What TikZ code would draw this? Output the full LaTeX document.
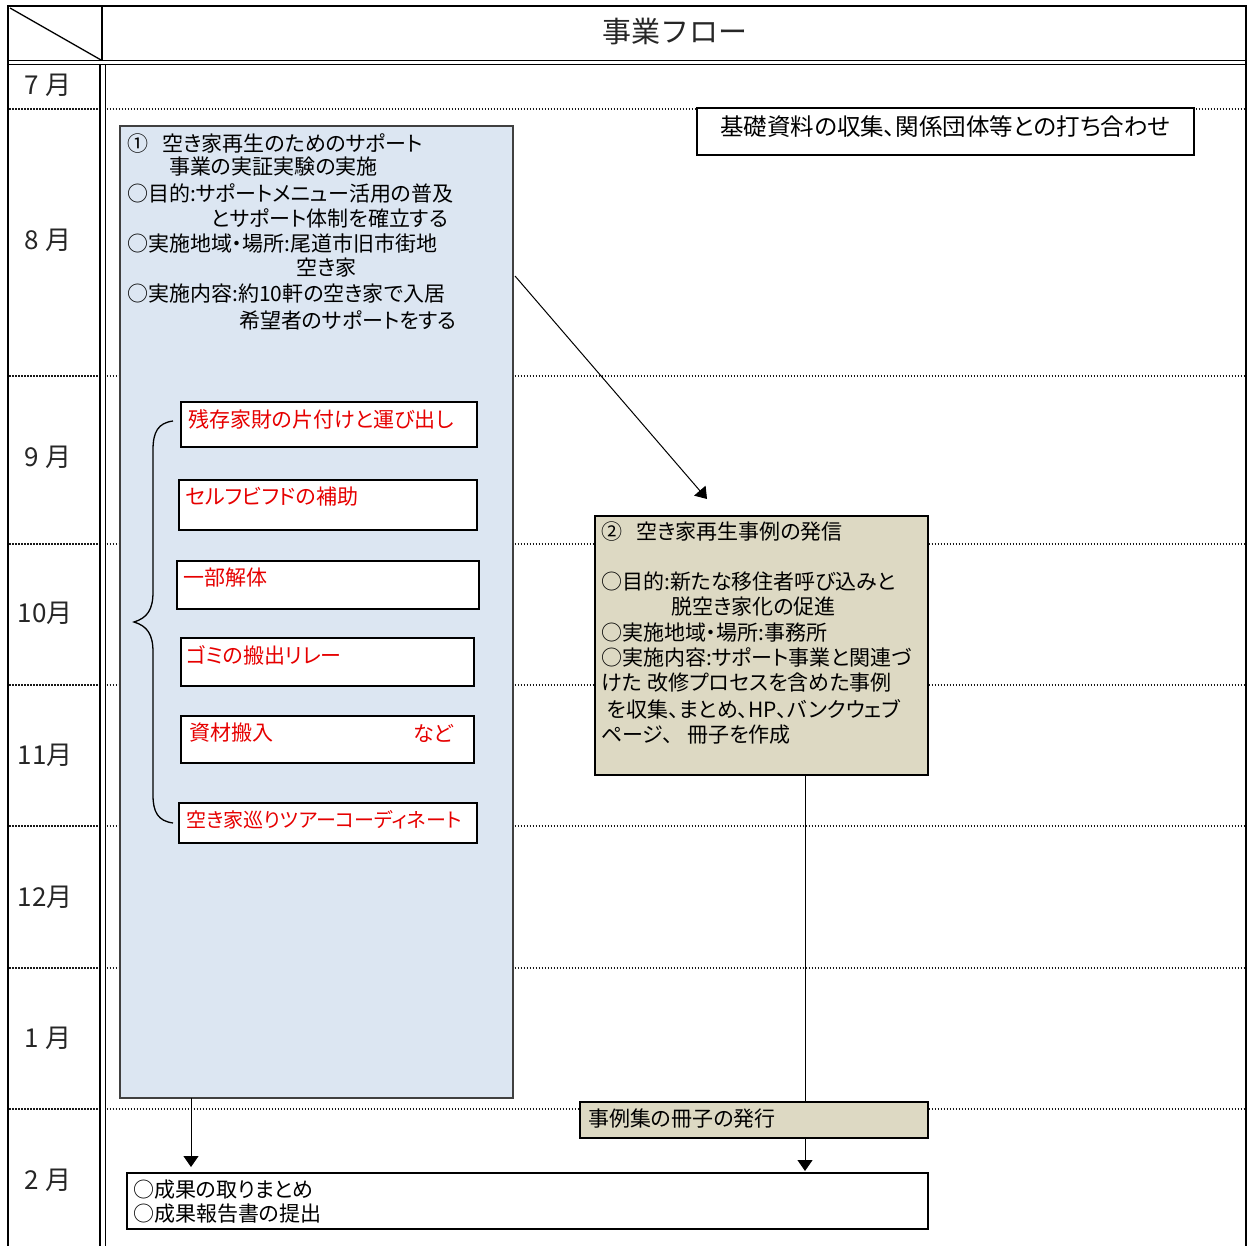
\documentclass[tikz,border=0pt]{standalone}
\usepackage{fontspec}
\setmainfont{Noto Sans CJK JP}
\newfontfamily\propfont{Noto Sans CJK JP}[CharacterWidth=AlternateProportional]
\usetikzlibrary{arrows.meta}
\definecolor{boxblue}{RGB}{220,230,242}
\definecolor{boxtan}{RGB}{221,217,195}
\definecolor{redtext}{RGB}{230,0,0}
\begin{document}
\begin{tikzpicture}[x=1pt,y=-1pt,
  frame/.style={line width=1.6pt, black},
  rowline/.style={line width=1.8pt, dash pattern=on 1.5pt off 1.5pt, black!90},
  boxbase/.style={anchor=north west, inner sep=0pt, outer sep=0pt, line width=1.5pt},
  bluebox/.style={boxbase, draw=black!75, fill=boxblue},
  tanbox/.style={boxbase, draw=black, fill=boxtan},
  whitebox/.style={boxbase, draw=black, fill=white},
  txt/.style={anchor=west, inner sep=0pt, font=\propfont\fontsize{21}{25}\selectfont},
  redtxt/.style={txt, text=redtext},
  month/.style={anchor=center, inner sep=0pt, font=\fontsize{26}{30}\selectfont, text=black!85},
  arr/.style={line width=1pt, -{Triangle[width=15pt,length=11pt]}},
  conn/.style={line width=1pt}
]
\useasboundingbox (0,0) rectangle (1247,1246);
\fill[white] (0,0) rectangle (1247,1246);

% ---- frame ----
\draw[frame] (8,1246) -- (8,6) -- (1246,6) -- (1246,1246);
\draw[frame] (8,60.5) -- (1246,60.5);
\draw[frame] (8,64.5) -- (1246,64.5);
\draw[frame] (102,6) -- (102,60.5);
\draw[frame] (100,64.5) -- (100,1246);
\draw[frame] (105.5,64.5) -- (105.5,1246);
\draw[line width=1.3pt] (10,8) -- (101,60);

% ---- row separators ----
\foreach \yy in {109,376,544,685,826,968,1109}{
  \draw[rowline] (9,\yy) -- (99,\yy);
  \draw[rowline] (106.5,\yy) -- (1245,\yy);
}

% ---- header & months ----
\node[anchor=center, inner sep=0pt, font=\fontsize{29}{32}\selectfont, text=black!85] (head) at (675,32) {事業フロー};
\node[month] (m7)  at (48,85)   {7 月};
\node[month] (m8)  at (48,240)  {8 月};
\node[month] (m9)  at (48,457)  {9 月};
\node[month] (m10) at (45,613)  {10月};
\node[month] (m11) at (45,755)  {11月};
\node[month] (m12) at (45,897)  {12月};
\node[month] (m1)  at (48,1038) {1 月};
\node[month] (m2)  at (48,1180) {2 月};

% ---- top right box ----
\node[whitebox, minimum width=497pt, minimum height=47pt] (basic) at (697,108) {};
\node[anchor=center, inner sep=0pt, font=\propfont\fontsize{23.5}{27}\selectfont] (basict) at (945.5,127) {基礎資料の収集、関係団体等との打ち合わせ};

% ---- box 1 ----
\node[bluebox, minimum width=393pt, minimum height=972pt] (b1) at (120,126) {};
\node[txt] (b1l1) at (127,143) {①\hspace{14pt}空き家再生のためのサポート};
\node[txt] (b1l2) at (169,167) {事業の実証実験の実施};
\node[txt] (b1l3) at (127,193) {○目的:サポートメニュー活用の普及};
\node[txt] (b1l4) at (211,218) {とサポート体制を確立する};
\node[txt] (b1l5) at (127,244) {○実施地域・場所:尾道市旧市街地};
\node[txt] (b1l6) at (296,268) {空き家};
\node[txt] (b1l7) at (127,294) {○実施内容:約10軒の空き家で入居};
\node[txt] (b1l8) at (239,320) {希望者のサポートをする};

% ---- sub boxes ----
\node[whitebox, minimum width=296pt, minimum height=45pt] (s1) at (181,402) {};
\node[redtxt] (s1t) at (188,419) {残存家財の片付けと運び出し};
\node[whitebox, minimum width=298pt, minimum height=50pt] (s2) at (179,480) {};
\node[redtxt] (s2t) at (185,497) {セルフビフドの補助};
\node[whitebox, minimum width=302pt, minimum height=48pt] (s3) at (177,561) {};
\node[redtxt] (s3t) at (183,578) {一部解体};
\node[whitebox, minimum width=293pt, minimum height=48pt] (s4) at (181,638) {};
\node[redtxt] (s4t) at (186,655) {ゴミの搬出リレー};
\node[whitebox, minimum width=293pt, minimum height=47pt] (s5) at (181,716) {};
\node[redtxt] (s5t) at (189,733) {資材搬入};
\node[redtxt] (s5n) at (413,733) {など};
\node[whitebox, minimum width=298pt, minimum height=40pt] (s6) at (179,803) {};
\node[redtxt, font=\propfont\fontsize{20}{24}\selectfont] (s6t) at (186,820) {空き家巡りツアーコーディネート};

% ---- brace ----
\draw[line width=1.3pt] (173,421) .. controls (158,423) and (153,432) .. (153,450)
  -- (153,592) .. controls (153,610) and (147,618) .. (134,622)
  .. controls (147,626) and (153,634) .. (153,652)
  -- (153,795) .. controls (153,812) and (158,821) .. (173,823);

% ---- box 2 ----
\node[tanbox, minimum width=333pt, minimum height=259pt] (b2) at (595,516) {};
\node[txt] (b2l1) at (601,532) {②\hspace{14pt}空き家再生事例の発信};
\node[txt] (b2l2) at (601,582) {○目的:新たな移住者呼び込みと};
\node[txt] (b2l3) at (671,607) {脱空き家化の促進};
\node[txt] (b2l4) at (601,633) {○実施地域・場所:事務所};
\node[txt] (b2l5) at (601,657) {○実施内容:サポート事業と関連づ};
\node[txt] (b2l6) at (601,683) {けた\hspace{6pt}改修プロセスを含めた事例};
\node[txt] (b2l7) at (607,709) {を収集、まとめ、HP、バンクウェブ};
\node[txt] (b2l8) at (601,735) {ページ、\hspace{14pt}冊子を作成};

% ---- box 3 ----
\node[tanbox, minimum width=348pt, minimum height=36pt] (b3) at (580,1102) {};
\node[txt] (b3t) at (588,1119) {事例集の冊子の発行};

% ---- box 4 ----
\node[whitebox, minimum width=801pt, minimum height=56pt] (b4) at (127,1173) {};
\node[txt] (b4l1) at (133,1190) {○成果の取りまとめ};
\node[txt] (b4l2) at (133,1214) {○成果報告書の提出};

% ---- connectors ----
\coordinate (a1s) at (515,276);
\coordinate (a1e) at (707,499);
\draw[arr] (a1s) -- (a1e);
\draw[conn] (b2.south -| 805,0) -- (b3.north -| 805,0);
\coordinate (a2e) at (805,1171);
\draw[arr] (b3.south -| 805,0) -- (a2e);
\coordinate (a3e) at (191,1167);
\draw[arr] (b1.south -| 191,0) -- (a3e);
\end{tikzpicture}
\end{document}
